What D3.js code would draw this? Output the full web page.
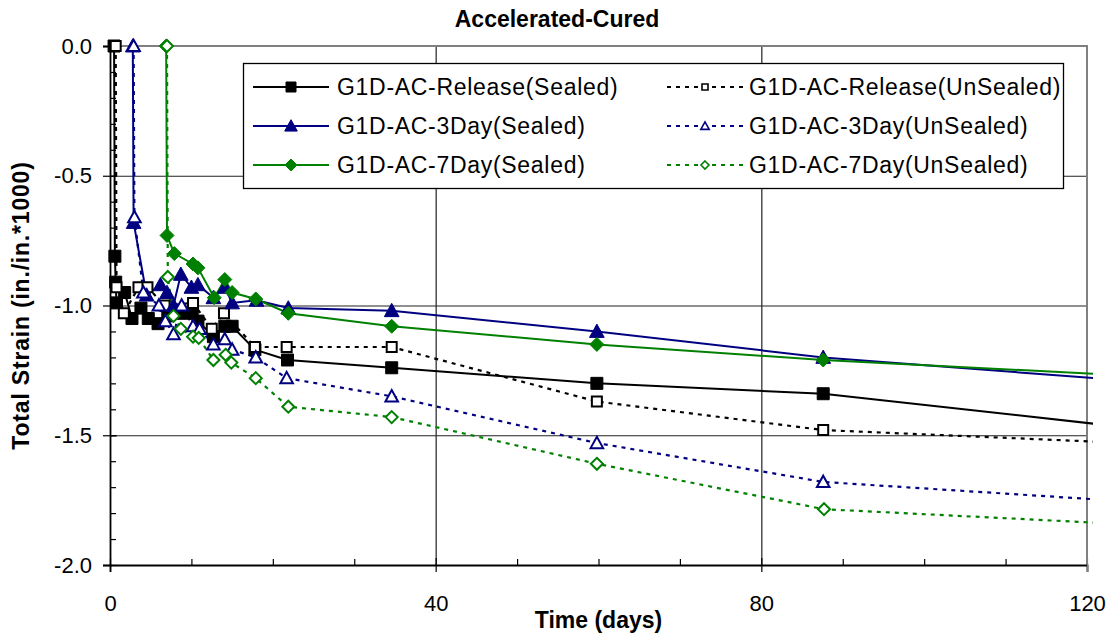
<!DOCTYPE html>
<html>
<head>
<meta charset="utf-8">
<script src="https://cdn.jsdelivr.net/npm/d3@7"></script>
<style>
  body { margin: 0; background: #fff; }
  text { font-family: "Liberation Sans", Arial, sans-serif; }
</style>
</head>
<body>
<div id="chart"></div>
<script>
// values (days, total strain in./in.*1000)
var relSealedDays = [0.5, 0.6, 0.7, 0.8, 1.8, 2.7, 3.8, 4.7, 5.9, 7.1, 8.6, 10.1, 10.8, 12.7, 14.1, 15.0, 17.8, 21.8, 34.6, 59.8, 87.6, 125];
var relSealedStrain = [0, -0.81, -0.91, -0.99, -0.95, -1.05, -1.01, -1.05, -1.07, -1.04, -1.03, -1.03, -1.06, -1.12, -1.08, -1.08, -1.17, -1.21, -1.24, -1.30, -1.34, -1.47];

var relUnsealedDays = [0.7, 0.8, 1.7, 3.5, 4.6, 6.7, 10.2, 12.5, 14.0, 17.8, 21.7, 34.6, 59.8, 87.6, 125];
var relUnsealedStrain = [0, -0.93, -1.03, -0.93, -0.93, -1.0, -0.99, -1.09, -1.03, -1.16, -1.16, -1.16, -1.37, -1.48, -1.53];

var day3SealedDays = [2.8, 2.9, 4.5, 6.2, 7.0, 7.8, 8.7, 10.0, 10.8, 12.7, 14.1, 15.0, 18.0, 21.9, 34.6, 59.8, 87.6, 125];
var day3SealedStrain = [0, -0.68, -0.96, -0.92, -0.95, -1.0, -0.88, -0.93, -0.92, -0.97, -0.93, -0.99, -0.98, -1.01, -1.02, -1.10, -1.20, -1.29];

var day3UnsealedDays = [2.9, 3.0, 4.1, 6.0, 6.8, 7.8, 8.8, 10.2, 11.0, 12.7, 14.1, 15.0, 17.9, 21.7, 34.6, 59.8, 87.6, 125];
var day3UnsealedStrain = [0, -0.66, -0.95, -1.0, -1.06, -1.11, -1.0, -1.08, -1.09, -1.15, -1.13, -1.17, -1.2, -1.28, -1.35, -1.53, -1.68, -1.755];

var day7SealedDays = [6.9, 7.0, 7.9, 10.2, 10.8, 12.8, 14.1, 15.0, 17.9, 21.9, 34.6, 59.8, 87.6, 125];
var day7SealedStrain = [0, -0.73, -0.80, -0.84, -0.855, -0.97, -0.90, -0.95, -0.975, -1.03, -1.08, -1.15, -1.21, -1.27];

var day7UnsealedDays = [7.0, 7.1, 7.8, 8.7, 10.2, 10.9, 12.7, 14.2, 14.9, 17.9, 21.9, 34.6, 59.8, 87.7, 125];
var day7UnsealedStrain = [0, -0.89, -1.04, -1.09, -1.12, -1.125, -1.21, -1.19, -1.22, -1.28, -1.39, -1.43, -1.61, -1.785, -1.843];

var seriesNames = ["G1D-AC-Release(Sealed)", "G1D-AC-Release(UnSealed)",
                   "G1D-AC-3Day(Sealed)", "G1D-AC-3Day(UnSealed)",
                   "G1D-AC-7Day(Sealed)", "G1D-AC-7Day(UnSealed)"];
var xTicks = [0, 40, 80, 120];
var yTicks = [0, -0.5, -1.0, -1.5, -2.0];

// build series list
var series = [
  { name: seriesNames[0], days: relSealedDays, strain: relSealedStrain, color: "#000000", sealed: true, shape: "square" },
  { name: seriesNames[1], days: relUnsealedDays, strain: relUnsealedStrain, color: "#000000", sealed: false, shape: "square" },
  { name: seriesNames[2], days: day3SealedDays, strain: day3SealedStrain, color: "#000080", sealed: true, shape: "triangle" },
  { name: seriesNames[3], days: day3UnsealedDays, strain: day3UnsealedStrain, color: "#000080", sealed: false, shape: "triangle" },
  { name: seriesNames[4], days: day7SealedDays, strain: day7SealedStrain, color: "#008000", sealed: true, shape: "diamond" },
  { name: seriesNames[5], days: day7UnsealedDays, strain: day7UnsealedStrain, color: "#008000", sealed: false, shape: "diamond" }
];
series.forEach(s => {
  s.values = s.days.map((d, i) => ({ day: d, strain: s.strain[i] }));
});

var width = 1114, height = 638;
var margin = { top: 46, right: 27, bottom: 73, left: 110 };

var svg = d3.select("#chart")
  .append("svg")
  .attr("width", width)
  .attr("height", height);

var x = d3.scaleLinear()
  .domain([0, 120])
  .range([margin.left, width - margin.right]);

var y = d3.scaleLinear()
  .domain([-2, 0])
  .range([height - margin.bottom, margin.top]);

// gridlines
svg.append("g")
  .attr("transform", "translate(" + margin.left + ",0)")
  .call(d3.axisLeft(y).tickValues([-0.5, -1.0, -1.5]).tickSize(-(x(120) - x(0))).tickFormat(""))
  .call(g => g.select(".domain").remove())
  .selectAll("line").attr("stroke", "#222").attr("stroke-width", 1.2);

svg.append("g")
  .attr("transform", "translate(0," + y(-2) + ")")
  .call(d3.axisBottom(x).tickValues([40, 80]).tickSize(-(y(-2) - y(0))).tickFormat(""))
  .call(g => g.select(".domain").remove())
  .selectAll("line").attr("stroke", "#222").attr("stroke-width", 1.2);

// plot border (top & right in grey)
svg.append("path")
  .attr("d", "M" + x(0) + "," + y(0) + "H" + x(120) + "V" + y(-2))
  .attr("fill", "none")
  .attr("stroke", "#808080")
  .attr("stroke-width", 2);

// minor ticks, inside
svg.append("g")
  .attr("transform", "translate(" + margin.left + ",0)")
  .call(d3.axisLeft(y).tickValues(d3.range(-19, 0).map(v => v / 10)).tickSize(-6).tickFormat(""))
  .call(g => g.select(".domain").remove())
  .selectAll("line").attr("stroke", "#000").attr("stroke-width", 1.2);

svg.append("g")
  .attr("transform", "translate(0," + y(-2) + ")")
  .call(d3.axisBottom(x).tickValues([10, 20, 30, 50, 60, 70, 90, 100, 110]).tickSize(-6).tickFormat(""))
  .call(g => g.select(".domain").remove())
  .selectAll("line").attr("stroke", "#000").attr("stroke-width", 1.2);

// major axes, ticks cross the axis line
var yAxis = svg.append("g")
  .attr("transform", "translate(" + margin.left + ",0)")
  .call(d3.axisLeft(y).tickValues(yTicks).tickSize(7).tickPadding(11).tickFormat(d => d.toFixed(1)));
yAxis.selectAll(".tick").append("line").attr("x2", 7);

var xAxis = svg.append("g")
  .attr("transform", "translate(0," + y(-2) + ")")
  .call(d3.axisBottom(x).tickValues(xTicks).tickSize(7).tickPadding(23).tickFormat(d3.format("d")));
xAxis.selectAll(".tick").append("line").attr("y2", -7);

[yAxis, xAxis].forEach(a => {
  a.select(".domain").attr("stroke", "#000").attr("stroke-width", 1.8);
  a.selectAll("line").attr("stroke", "#000").attr("stroke-width", 1.2);
  a.selectAll("text")
    .attr("fill", "#000")
    .style("font-size", "22px")
    .style("font-family", "'Liberation Sans', Arial, sans-serif");
});
xAxis.select(".tick:last-of-type").selectAll("line").attr("stroke", "#808080");

// lines are clipped just past the right edge like the original
svg.append("clipPath")
  .attr("id", "plotClip")
  .append("rect")
  .attr("x", x(0))
  .attr("y", y(0) - 1)
  .attr("width", x(120) - x(0) + 6)
  .attr("height", y(-2) - y(0) + 1);

var line = d3.line()
  .x(d => x(d.day))
  .y(d => y(d.strain));

svg.append("g")
  .attr("clip-path", "url(#plotClip)")
  .selectAll("path")
  .data(series)
  .enter().append("path")
  .attr("d", d => line(d.values))
  .attr("fill", "none")
  .attr("stroke", d => d.color)
  .attr("stroke-width", d => d.sealed ? 2 : 2.2)
  .attr("stroke-dasharray", d => d.sealed ? null : "4,5");

// marker paths
function markerPath(shape, size) {
  var h = size / 2;
  if (shape === "square") return "M" + (-h) + "," + (-h) + "h" + size + "v" + size + "h" + (-size) + "Z";
  if (shape === "triangle") return "M0," + (-h * 1.05) + "L" + (h * 1.05) + "," + (h * 0.85) + "L" + (-h * 1.05) + "," + (h * 0.85) + "Z";
  return "M0," + (-h) + "L" + h + ",0L0," + h + "L" + (-h) + ",0Z";
}

series.forEach(s => {
  var size = s.sealed ? (s.shape === "square" ? 12 : 14) : (s.shape === "square" ? 10 : 12);
  svg.append("g")
    .selectAll("path")
    .data(s.values.filter(d => d.day <= 120))
    .enter().append("path")
    .attr("transform", d => "translate(" + x(d.day) + "," + y(d.strain) + ")")
    .attr("d", markerPath(s.shape, size))
    .attr("fill", s.sealed ? s.color : "#fff")
    .attr("stroke", s.color)
    .attr("stroke-width", s.sealed ? 1 : 2);
});

// legend
var legend = svg.append("g");
legend.append("rect")
  .attr("x", 243.5)
  .attr("y", 63.5)
  .attr("width", 820)
  .attr("height", 125)
  .attr("fill", "#fff")
  .attr("stroke", "#000")
  .attr("stroke-width", 1.3);

series.forEach((s, i) => {
  var col = i % 2, row = Math.floor(i / 2);
  var lx = col === 0 ? 253 : 667;
  var ly = 87 + row * 39;
  var g = legend.append("g");
  g.append("line")
    .attr("x1", lx).attr("x2", lx + 76)
    .attr("y1", ly).attr("y2", ly)
    .attr("stroke", s.color)
    .attr("stroke-width", 2)
    .attr("stroke-dasharray", s.sealed ? null : "4,5");
  var msize = s.sealed ? (s.shape === "square" ? 10 : 12) : (s.shape === "square" ? 6 : 8);
  g.append("path")
    .attr("transform", "translate(" + (lx + 38) + "," + ly + ")")
    .attr("d", markerPath(s.shape, msize))
    .attr("fill", s.sealed ? s.color : "#fff")
    .attr("stroke", s.color)
    .attr("stroke-width", s.sealed ? 1 : 1.6);
  g.append("text")
    .attr("x", lx + (col === 0 ? 84 : 82))
    .attr("y", ly)
    .attr("dy", "0.35em")
    .style("font-size", "23px")
    .style("letter-spacing", "0.7px")
    .text(s.name);
});

// titles
svg.append("text")
  .attr("x", 557)
  .attr("y", 27)
  .attr("text-anchor", "middle")
  .style("font-size", "23px")
  .style("font-weight", "bold")
  .text("Accelerated-Cured");

svg.append("text")
  .attr("x", (x(0) + x(120)) / 2)
  .attr("y", 628)
  .attr("text-anchor", "middle")
  .style("font-size", "23px")
  .style("font-weight", "bold")
  .text("Time (days)");

svg.append("text")
  .attr("transform", "translate(29," + ((y(0) + y(-2)) / 2) + ") rotate(-90)")
  .attr("text-anchor", "middle")
  .style("font-size", "23px")
  .style("font-weight", "bold")
  .style("letter-spacing", "0.8px")
  .text("Total Strain (in./in.*1000)");
</script>
</body>
</html>
